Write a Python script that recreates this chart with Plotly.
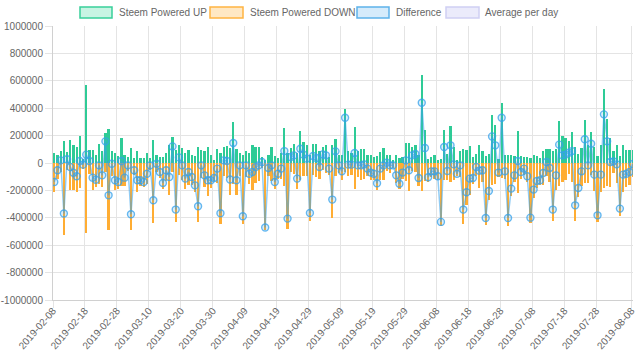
import datetime as dt
import plotly.graph_objects as go

# ---- data (thousands of STEEM) ----
start_date = "2019-02-08"
powered_up = [75, 61, 85, 158, 80, 170, 129, 117, 194, 32,
              571, 97, 92, 56, 136, 85, 221, 250, 88, 70,
              49, 182, 61, 44, 112, 36, 85, 39, 39, 73,
              36, 165, 61, 41, 44, 75, 129, 190, 92, 129,
              109, 73, 97, 61, 51, 117, 92, 85, 117, 56,
              24, 104, 75, 117, 124, 110, 299, 104, 75, 56,
              85, 75, 134, 114, 114, 44, 19, 56, 117, 51,
              36, 75, 255, 75, 109, 136, 75, 231, 153, 129,
              56, 136, 141, 85, 117, 129, 44, 134, 177, 56,
              61, 396, 85, 75, 262, 85, 104, 104, 56, 56,
              44, 51, 80, 109, 61, 56, 19, 56, 39, 44,
              148, 148, 116, 134, 56, 644, 238, 32, 44, 56,
              19, 27, 243, 68, 268, 117, 19, 85, 104, 92,
              122, 44, 68, 129, 85, 51, 68, 353, 280, 32,
              440, 56, 61, 56, 51, 231, 51, 44, 44, 36,
              61, 51, 36, 85, 104, 100, 85, 104, 304, 197,
              182, 158, 226, 117, 68, 109, 316, 129, 226, 117,
              51, 129, 537, 323, 182, 85, 134, 51, 129, 97,
              97, 97]
powered_down = [-214, -114, -66, -527, -53, -199, -200, -214, -179, -44,
                -510, -82, -199, -178, -153, -175, -63, -486, -93, -196,
                -188, -167, -168, -61, -486, -89, -211, -165, -178, -151,
                -53, -437, -66, -107, -190, -128, -231, -69, -432, -88,
                -126, -187, -163, -163, -214, -433, -109, -175, -243, -182,
                -133, -145, -442, -98, -109, -230, -153, -230, -92, -445,
                -102, -153, -200, -143, -131, -37, -490, -92, -134, -190,
                -114, -116, -168, -481, -65, -80, -189, -127, -92, -97,
                -421, -85, -105, -114, -54, -73, -85, -401, -92, -73,
                -122, -66, -97, -87, -189, -102, -121, -114, -97, -126,
                -122, -199, -121, -126, -59, -73, -36, -146, -190, -114,
                -129, -201, -60, -68, -165, -204, -129, -136, -105, -117,
                -116, -457, -126, -126, -139, -127, -97, -102, -444, -306,
                -236, -153, -97, -185, -138, -452, -272, -159, -151, -102,
                -110, -117, -462, -243, -141, -216, -117, -85, -141, -435,
                -255, -182, -162, -158, -97, -136, -425, -194, -170, -141,
                -121, -83, -139, -426, -250, -170, -143, -146, -85, -202,
                -433, -214, -182, -165, -175, -73, -144, -384, -214, -175,
                -163, -104]
x_tick_labels = ["2019-02-08", "2019-02-18", "2019-02-28", "2019-03-10", "2019-03-20",
                 "2019-03-30", "2019-04-09", "2019-04-19", "2019-04-29", "2019-05-09",
                 "2019-05-19", "2019-05-29", "2019-06-08", "2019-06-18", "2019-06-28",
                 "2019-07-08", "2019-07-18", "2019-07-28", "2019-08-08"]
y_tick_values = [-1000000, -800000, -600000, -400000, -200000, 0,
                 200000, 400000, 600000, 800000, 1000000]
y_tick_labels = ["-1000000", "-800000", "-600000", "-400000", "-200000", "0",
                 "200000", "400000", "600000", "800000", "1000000"]
legend_names = ["Steem Powered UP", "Steem Powered DOWN", "Difference", "Average per day"]

up = [v * 1000 for v in powered_up]
down = [v * 1000 for v in powered_down]
difference = [u + d for u, d in zip(up, down)]

d0 = dt.datetime.strptime(start_date, "%Y-%m-%d")
dates = [d0 + dt.timedelta(days=i, hours=9.6) for i in range(len(up))]

GREEN = "#2ecb96"
ORANGE = "#ffad33"
BLUE = "rgba(54,162,235,0.55)"
GRID = "#e4e4e4"
FONT = "Liberation Sans, Arial, Helvetica, sans-serif"
TXT = "#666666"
bar_w = 0.7 * 86400000

fig = go.Figure()
fig.add_trace(go.Bar(x=dates, y=up, name=legend_names[0], width=bar_w,
                     marker=dict(color=GREEN, line=dict(width=0)), showlegend=False))
fig.add_trace(go.Bar(x=dates, y=down, name=legend_names[1], width=bar_w,
                     marker=dict(color=ORANGE, line=dict(width=0)), showlegend=False))
fig.add_trace(go.Scatter(x=dates, y=difference, name=legend_names[2], mode="lines+markers",
                         line=dict(color=BLUE, width=1.5),
                         marker=dict(symbol="circle", size=7, color="rgba(54,162,235,0.18)",
                                     line=dict(color="rgba(54,162,235,0.75)", width=1.4)),
                         showlegend=False))

# plot area spans x 53..633, y 26..300 (pixels)
L, W, T, H = 53, 580, 26, 274
def px(x):
    return (x - L) / W
def py(y):
    return (T + H - y) / H

boxes = [(80, 112, "#c8f4e3", "#38cf9a"), (210, 243, "#ffe8c4", "#ffb441"),
         (357, 389, "#d5ebfb", "#5db3ea"), (446, 479, "#ebebfb", "#d0d0f4")]
text_x = [117, 248, 394, 483]
shapes = []
annotations = []
for (x0, x1, fill, border), tx, name in zip(boxes, text_x, legend_names):
    shapes.append(dict(type="rect", xref="paper", yref="paper",
                       x0=px(x0), x1=px(x1), y0=py(18), y1=py(7),
                       fillcolor=fill, line=dict(color=border, width=1.5)))
    annotations.append(dict(xref="paper", yref="paper", x=px(tx), y=py(12.5),
                            text=name, showarrow=False, xanchor="left", yanchor="middle",
                            font=dict(family=FONT, size=10, color=TXT)))

end_range = d0 + dt.timedelta(days=181.5)
fig.update_layout(
    width=640, height=361,
    margin=dict(l=53, r=7, t=26, b=61, autoexpand=False),
    paper_bgcolor="white", plot_bgcolor="white",
    barmode="overlay", bargap=0,
    font=dict(family=FONT, size=10, color=TXT),
    shapes=shapes, annotations=annotations,
    xaxis=dict(type="date", range=[d0, end_range], automargin=False,
               tickvals=x_tick_labels, ticktext=x_tick_labels, tickangle=-49,
               ticklabelstandoff=-7,
               showgrid=True, gridcolor=GRID, gridwidth=1,
               ticks="outside", ticklen=7, tickcolor=GRID,
               showline=True, linecolor="#d0d0d0", linewidth=1,
               tickfont=dict(family=FONT, size=10, color=TXT)),
    yaxis=dict(range=[-1000000, 1000000], tickvals=y_tick_values, ticktext=y_tick_labels,
               automargin=False,
               showgrid=True, gridcolor=GRID, gridwidth=1,
               zeroline=True, zerolinecolor=GRID, zerolinewidth=1,
               ticks="outside", ticklen=7, tickcolor=GRID,
               showline=True, linecolor="#d0d0d0", linewidth=1,
               tickfont=dict(family=FONT, size=10, color=TXT)),
)

fig.write_html("out.html", config={"displayModeBar": False},
               post_script="document.body.style.margin='0px';")
